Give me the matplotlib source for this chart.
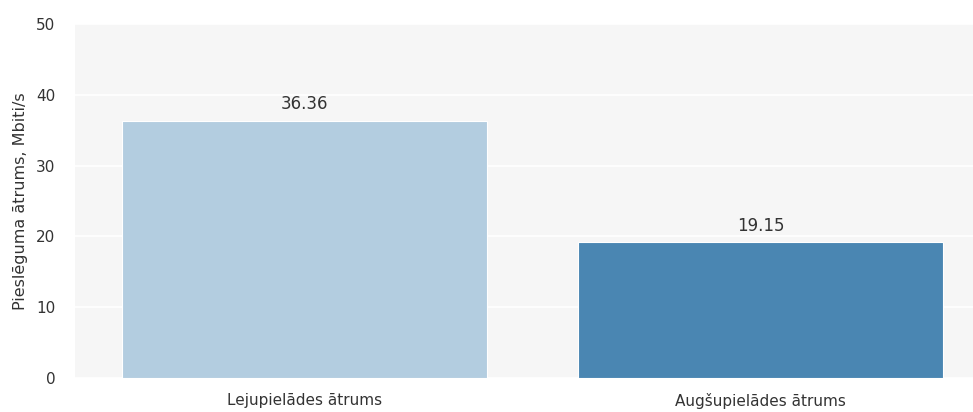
import matplotlib
matplotlib.use("Agg")
import matplotlib.pyplot as plt

categories = ["Lejupielādes ātrums", "Augšupielādes ātrums"]
values = [36.36, 19.15]
colors = ["#b3cde0", "#4a86b2"]

W, H = 973, 412
fig = plt.figure(figsize=(W / 100, H / 100), dpi=100)
ax = fig.add_axes([75 / W, 34 / H, (W - 75) / W, 354 / H])
ax.set_facecolor("#f6f6f6")

x = list(range(len(categories)))
bars = ax.bar(x, values, width=0.8, color=colors, edgecolor="white", linewidth=0.8, zorder=3)
for b, v in zip(bars, values):
    ax.text(b.get_x() + b.get_width() / 2, v + 1.1, f"{v:.2f}", ha="center", va="bottom",
            fontsize=12, color="#333333", zorder=4)

ax.set_xlim(-0.502, 1.465)
ax.set_ylim(0, 50)
ax.set_yticks(range(0, 51, 10))
ax.set_xticks(x)
ax.set_xticklabels(categories)
ax.yaxis.grid(True, color="white", linewidth=1.2, zorder=1)
ax.xaxis.grid(False)
for s in ax.spines.values():
    s.set_visible(False)
ax.tick_params(axis="both", length=0, labelsize=11, colors="#333333")
ax.tick_params(axis="x", pad=11)
ax.tick_params(axis="y", pad=14)
ax.set_ylabel("Pieslēguma ātrums, Mbiti/s", fontsize=11.5, color="#333333", labelpad=6)

fig.savefig("out.png", dpi=100)
